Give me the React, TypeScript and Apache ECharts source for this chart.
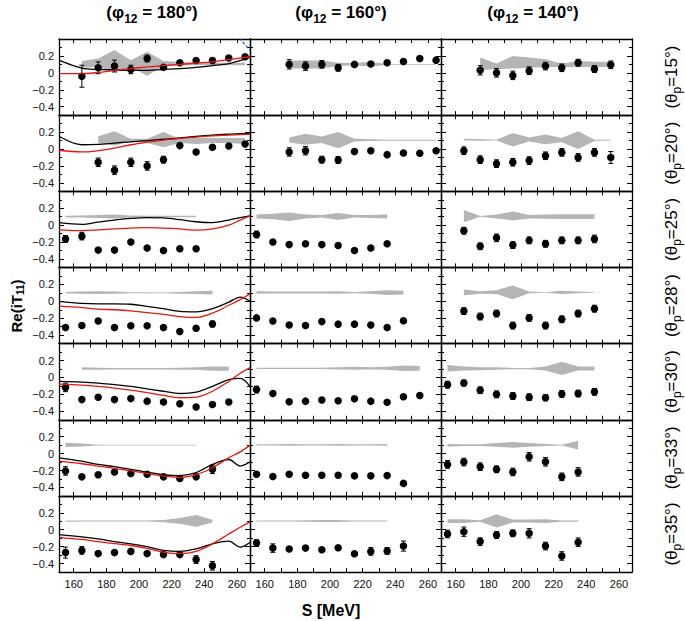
import React, { useEffect, useRef } from "react";
import * as echarts from "echarts";

// ---------- data ----------
const ENERGY = [155, 165, 175, 185, 195, 205, 215, 225, 235, 245, 255, 265];
const PHI_TITLES = ["180°", "160°", "140°"];
const THETA_LABELS = ["15°", "20°", "25°", "28°", "30°", "33°", "35°"];
const X_TICKS = [160, 170, 180, 190, 200, 210, 220, 230, 240, 250, 260];
const X_LABELS = [160, 180, 200, 220, 240, 260];
const Y_MAJOR = [-0.4, -0.2, 0, 0.2];
const Y_MINOR = [-0.3, -0.1, 0.1, 0.3];
const X_MIN = 151;
const X_MAX = 268;
const Y_MIN = -0.5;
const Y_MAX = 0.4;

type Row = (number | null)[];

// phi12 = 180
const pts180: Row[] = [
  [null, -0.04, 0.06, 0.08, 0.04, 0.17, 0.065, 0.12, 0.145, 0.145, 0.175, 0.19],
  [null, null, -0.157, -0.25, -0.157, -0.2, -0.126, 0.04, -0.035, 0.02, 0.035, 0.06],
  [-0.163, -0.13, -0.295, -0.295, -0.2, -0.27, -0.3, -0.28, -0.28, null, null, null],
  [-0.31, -0.287, -0.233, -0.31, -0.29, -0.29, -0.31, -0.357, -0.318, -0.268, null, null],
  [-0.118, -0.262, -0.235, -0.262, -0.25, -0.28, -0.29, -0.31, -0.35, -0.32, -0.29, null],
  [-0.205, -0.275, -0.25, -0.217, -0.236, -0.244, -0.275, -0.294, -0.275, -0.186, null, null],
  [-0.27, -0.244, -0.282, -0.27, -0.256, -0.282, -0.294, -0.294, -0.352, -0.426, null, null],
];
const err180: number[][] = [
  [0, 0.13, 0.07, 0.07, 0.05, 0.04, 0, 0, 0, 0, 0, 0],
  [0, 0, 0.05, 0.05, 0.05, 0.05, 0.04, 0, 0, 0, 0, 0],
  [0.04, 0.045, 0, 0, 0, 0, 0, 0, 0, 0, 0, 0],
  [0, 0, 0, 0, 0, 0, 0, 0, 0, 0.035, 0, 0],
  [0.05, 0, 0, 0, 0, 0, 0, 0, 0, 0, 0, 0],
  [0.05, 0, 0, 0, 0, 0, 0, 0, 0, 0.05, 0, 0],
  [0.065, 0.045, 0, 0, 0, 0, 0, 0, 0.045, 0.05, 0, 0],
];
const bandLo180: Row[] = [
  [null, 0.06, 0.07, 0.01, 0.07, -0.035, 0.08, 0.09, 0.09, 0.09, 0.09, 0.09],
  [null, null, 0.07, 0.04, 0.09, 0.07, 0.02, 0.07, 0.06, 0.07, 0.07, 0.06],
  [0.09, 0.09, 0.085, 0.08, 0.09, 0.093, 0.093, 0.093, 0.093, null, null, null],
  [0.095, 0.09, 0.085, 0.09, 0.095, 0.095, 0.095, 0.09, 0.085, 0.08, null, null],
  [null, 0.09, 0.092, 0.095, 0.095, 0.095, 0.095, 0.092, 0.09, 0.08, 0.08, null],
  [0.078, 0.085, 0.095, 0.096, 0.096, 0.096, 0.096, 0.096, 0.096, null, null, null],
  [0.095, 0.097, 0.097, 0.097, 0.097, 0.097, 0.09, 0.07, 0.035, 0.086, null, null],
];
const bandHi180: Row[] = [
  [null, 0.14, 0.17, 0.27, 0.15, 0.25, 0.14, 0.13, 0.12, 0.12, 0.12, 0.12],
  [null, null, 0.15, 0.21, 0.12, 0.12, 0.2, 0.12, 0.13, 0.13, 0.13, 0.13],
  [0.11, 0.115, 0.12, 0.125, 0.115, 0.11, 0.11, 0.11, 0.11, null, null, null],
  [0.11, 0.115, 0.12, 0.115, 0.108, 0.108, 0.105, 0.11, 0.12, 0.125, null, null],
  [null, 0.12, 0.115, 0.112, 0.112, 0.112, 0.112, 0.115, 0.12, 0.13, 0.13, null],
  [0.128, 0.12, 0.106, 0.104, 0.104, 0.104, 0.104, 0.104, 0.104, null, null, null],
  [0.11, 0.108, 0.108, 0.108, 0.108, 0.108, 0.115, 0.14, 0.174, 0.118, null, null],
];

// phi12 = 160
const pts160: Row[] = [
  [null, null, 0.1, 0.08, 0.1, 0.06, 0.1, 0.105, 0.12, 0.135, 0.17, 0.15],
  [null, null, -0.035, -0.02, -0.126, -0.13, -0.03, -0.02, -0.067, -0.047, -0.05, -0.02],
  [-0.11, -0.2, -0.23, -0.22, -0.23, -0.24, -0.3, -0.27, -0.22, null, null, null],
  [-0.196, -0.233, -0.28, -0.287, -0.24, -0.27, -0.27, -0.28, -0.31, -0.23, null, null],
  [-0.143, -0.19, -0.287, -0.28, -0.267, -0.275, -0.252, -0.28, -0.294, -0.229, -0.213, null],
  [-0.244, -0.27, -0.244, -0.256, -0.256, -0.256, -0.263, -0.263, -0.26, -0.352, null, null],
  [-0.158, -0.217, -0.228, -0.217, -0.236, -0.213, -0.283, -0.256, -0.25, -0.193, null, null],
];
const err160: number[][] = [
  [0, 0, 0.055, 0.05, 0.045, 0.04, 0, 0, 0, 0, 0, 0],
  [0, 0, 0.05, 0.05, 0.04, 0.04, 0, 0, 0, 0, 0, 0],
  [0.04, 0, 0, 0, 0, 0, 0, 0, 0, 0, 0, 0],
  [0, 0, 0, 0, 0, 0, 0, 0, 0, 0, 0, 0],
  [0.04, 0, 0, 0, 0, 0, 0, 0, 0, 0, 0, 0],
  [0, 0, 0, 0, 0, 0, 0, 0, 0, 0, 0, 0],
  [0.04, 0.05, 0, 0, 0, 0, 0, 0.045, 0.04, 0.06, 0, 0],
];
const bandLo160: Row[] = [
  [null, null, 0.05, 0.05, 0.05, 0.08, 0.09, 0.075, 0.095, 0.095, 0.095, 0.095],
  [null, null, 0.078, 0.05, 0.07, 0.01, 0.09, 0.095, 0.098, 0.098, 0.098, 0.098],
  [0.08, 0.07, 0.05, 0.08, 0.09, 0.062, 0.09, 0.085, 0.078, null, null, null],
  [0.09, 0.093, 0.093, 0.093, 0.093, 0.09, 0.095, 0.09, 0.075, 0.08, null, null],
  [0.1, 0.1, 0.1, 0.1, 0.1, 0.095, 0.09, 0.095, 0.09, 0.075, 0.08, null],
  [0.095, 0.095, 0.093, 0.095, 0.095, 0.093, 0.095, 0.095, 0.093, null, null, null],
  [0.097, 0.097, 0.097, 0.095, 0.092, 0.092, 0.097, 0.097, 0.097, null, null, null],
];
const bandHi160: Row[] = [
  [null, null, 0.145, 0.145, 0.145, 0.12, 0.115, 0.13, 0.105, 0.105, 0.105, 0.105],
  [null, null, 0.137, 0.18, 0.148, 0.2, 0.12, 0.115, 0.11, 0.11, 0.11, 0.11],
  [0.125, 0.135, 0.15, 0.125, 0.12, 0.143, 0.12, 0.12, 0.128, null, null, null],
  [0.12, 0.115, 0.115, 0.115, 0.115, 0.12, 0.11, 0.12, 0.13, 0.125, null, null],
  [0.115, 0.115, 0.115, 0.115, 0.115, 0.12, 0.125, 0.12, 0.125, 0.14, 0.135, null],
  [0.11, 0.11, 0.112, 0.11, 0.11, 0.112, 0.11, 0.11, 0.112, null, null, null],
  [0.11, 0.11, 0.11, 0.112, 0.115, 0.115, 0.11, 0.11, 0.11, null, null, null],
];

// phi12 = 140
const pts140: Row[] = [
  [null, null, 0.03, 0.0, -0.03, 0.025, 0.08, 0.06, 0.12, 0.045, 0.095, null],
  [null, -0.02, -0.126, -0.173, -0.157, -0.137, -0.08, -0.04, -0.1, -0.04, -0.1, null],
  [null, -0.066, -0.25, -0.15, -0.236, -0.18, -0.22, -0.18, -0.18, -0.163, null, null],
  [null, -0.116, -0.18, -0.145, -0.287, -0.196, -0.287, -0.213, -0.145, -0.087, null, null],
  [-0.085, -0.066, -0.151, -0.2, -0.22, -0.233, -0.24, -0.195, -0.19, -0.17, null, null],
  [-0.128, -0.1, -0.155, -0.186, -0.217, -0.038, -0.097, -0.275, -0.217, null, null, null],
  [-0.05, -0.023, -0.14, -0.062, -0.042, -0.042, -0.193, -0.31, -0.147, null, null, null],
];
const err140: number[][] = [
  [0, 0, 0.055, 0.05, 0.05, 0.045, 0.045, 0.045, 0.04, 0.04, 0.045, 0],
  [0, 0.045, 0.045, 0.045, 0.045, 0.045, 0.045, 0.045, 0.045, 0.045, 0.07, 0],
  [0, 0.04, 0.04, 0.045, 0.04, 0.04, 0.04, 0.04, 0.04, 0.045, 0, 0],
  [0, 0.04, 0.04, 0.04, 0.04, 0.04, 0.04, 0.04, 0.04, 0.04, 0, 0],
  [0.04, 0.035, 0.04, 0.04, 0.04, 0.04, 0.035, 0.04, 0.04, 0.04, 0, 0],
  [0.045, 0.045, 0.045, 0.04, 0.045, 0.05, 0.05, 0.045, 0.05, 0, 0, 0],
  [0.045, 0.055, 0.045, 0.04, 0.04, 0.055, 0.045, 0.05, 0.05, 0, 0, 0],
];
const bandLo140: Row[] = [
  [null, null, 0.03, 0.045, 0.05, 0.06, 0.067, 0.07, 0.067, 0.07, 0.07, null],
  [null, 0.1, 0.098, 0.1, 0.03, 0.09, 0.055, 0.08, 0.0, 0.095, 0.1, null],
  [null, 0.035, 0.1, 0.08, 0.055, 0.08, 0.075, 0.073, 0.073, 0.073, null, null],
  [null, 0.07, 0.09, 0.085, 0.023, 0.095, 0.1, 0.085, 0.095, 0.1, null, null],
  [0.07, 0.081, 0.085, 0.09, 0.097, 0.097, 0.081, 0.03, 0.081, 0.081, null, null],
  [0.082, 0.09, 0.09, 0.08, 0.07, 0.08, 0.09, 0.095, 0.047, null, null, null],
  [0.08, 0.08, 0.095, 0.028, 0.085, 0.085, 0.08, 0.095, 0.095, null, null, null],
];
const bandHi140: Row[] = [
  [null, null, 0.18, 0.11, 0.2, 0.18, 0.16, 0.11, 0.14, 0.13, 0.13, null],
  [null, 0.12, 0.118, 0.11, 0.19, 0.135, 0.17, 0.13, 0.21, 0.11, 0.108, null],
  [null, 0.178, 0.108, 0.125, 0.16, 0.12, 0.125, 0.128, 0.128, 0.128, null, null],
  [null, 0.14, 0.12, 0.13, 0.188, 0.115, 0.107, 0.125, 0.115, 0.107, null, null],
  [0.147, 0.128, 0.12, 0.12, 0.113, 0.113, 0.128, 0.186, 0.128, 0.128, null, null],
  [0.112, 0.11, 0.11, 0.125, 0.136, 0.125, 0.112, 0.105, 0.151, null, null, null],
  [0.124, 0.124, 0.112, 0.183, 0.12, 0.12, 0.124, 0.11, 0.11, null, null, null],
];

// theory curves (phi12 = 180 only)
const CURVE_S = [151, 165, 175, 185, 195, 205, 215, 225, 235, 245, 255, 262, 268];
const black180: number[][] = [
  [0.15, 0.055, 0.04, 0.035, 0.03, 0.03, 0.04, 0.05, 0.065, 0.085, 0.11, 0.145, 0.185],
  [0.15, 0.05, 0.055, 0.07, 0.085, 0.1, 0.115, 0.13, 0.15, 0.165, 0.175, 0.18, 0.18],
  [0.03, 0.01, 0.035, 0.06, 0.08, 0.09, 0.085, 0.065, 0.04, 0.03, 0.06, 0.09, 0.11],
  [0.0, -0.025, -0.03, -0.03, -0.035, -0.06, -0.087, -0.12, -0.125, -0.087, -0.01, 0.05, 0.0],
  [-0.047, -0.055, -0.066, -0.085, -0.105, -0.135, -0.163, -0.19, -0.174, -0.105, -0.027, -0.01, -0.105],
  [-0.05, -0.09, -0.128, -0.155, -0.186, -0.22, -0.25, -0.26, -0.225, -0.128, -0.07, -0.147, -0.097],
  [-0.058, -0.085, -0.109, -0.14, -0.167, -0.2, -0.244, -0.256, -0.225, -0.167, -0.135, -0.205, -0.147],
];
const red180: number[][] = [
  [-0.01, -0.01, 0.005, 0.03, 0.05, 0.07, 0.085, 0.1, 0.115, 0.13, 0.155, 0.175, 0.19],
  [-0.015, -0.035, -0.02, 0.01, 0.05, 0.08, 0.105, 0.125, 0.14, 0.155, 0.165, 0.17, 0.175],
  [-0.055, -0.065, -0.055, -0.045, -0.035, -0.03, -0.035, -0.045, -0.06, -0.045, 0.0, 0.06, 0.11],
  [-0.058, -0.075, -0.093, -0.1, -0.113, -0.135, -0.155, -0.18, -0.19, -0.14, -0.047, 0.02, 0.09],
  [-0.078, -0.09, -0.105, -0.125, -0.15, -0.18, -0.213, -0.24, -0.233, -0.163, -0.047, 0.05, 0.116],
  [-0.089, -0.12, -0.147, -0.175, -0.205, -0.235, -0.264, -0.283, -0.25, -0.167, -0.05, 0.02, 0.097],
  [-0.089, -0.115, -0.14, -0.165, -0.186, -0.22, -0.264, -0.283, -0.256, -0.167, -0.05, 0.03, 0.093],
];
const BLUE_S = [261.5, 268];
const BLUE_V = [0.41, 0.265];

// ---------- layout / style ----------
const FONT = "Liberation Sans, Arial, Helvetica, sans-serif";
const GRID_LEFT = [59, 250, 441];
const GRID_W = 191;
const GRID_TOP = 39;
const GRID_H = 76.15;
const BAND_COLOR = "#b5b5b5";

const fmtY = (v: number) => {
  if (Math.abs(v) < 1e-9) return "0";
  return (v < 0 ? "\u2212" : "") + Math.abs(v).toFixed(1);
};

function buildOption() {
  const cols = [
    { pts: pts180, err: err180, lo: bandLo180, hi: bandHi180 },
    { pts: pts160, err: err160, lo: bandLo160, hi: bandHi160 },
    { pts: pts140, err: err140, lo: bandLo140, hi: bandHi140 },
  ];
  const grid: any[] = [];
  const xAxis: any[] = [];
  const yAxis: any[] = [];
  const series: any[] = [];
  const axisLine = { show: true, onZero: false, lineStyle: { color: "#000", width: 1.3 } };
  const tickStyle = { color: "#000", width: 1 };

  for (let r = 0; r < 7; r++) {
    for (let c = 0; c < 3; c++) {
      const g = r * 3 + c;
      grid.push({ left: GRID_LEFT[c], top: GRID_TOP + r * GRID_H, width: GRID_W, height: GRID_H });
      for (const pos of ["bottom", "top"]) {
        xAxis.push({
          gridIndex: g, type: "value", min: X_MIN, max: X_MAX, position: pos,
          axisLine,
          axisTick: { show: true, inside: true, length: 4, customValues: X_TICKS, lineStyle: tickStyle },
          axisLabel: {
            show: pos === "bottom" && r === 6, customValues: X_LABELS,
            fontSize: 11, fontFamily: FONT, color: "#111", margin: 6,
            formatter: (v: number) => String(v),
          },
          splitLine: { show: false },
        });
      }
      for (const pos of ["left", "right"]) {
        yAxis.push({
          gridIndex: g, type: "value", min: Y_MIN, max: Y_MAX, position: pos,
          axisLine,
          axisTick: { show: true, inside: true, length: 5, customValues: Y_MAJOR, lineStyle: tickStyle },
          axisLabel: {
            show: pos === "left" && c === 0, customValues: Y_MAJOR,
            fontSize: 11, fontFamily: FONT, color: "#111", margin: 5, formatter: fmtY,
          },
          splitLine: { show: false },
        });
        yAxis.push({
          gridIndex: g, type: "value", min: Y_MIN, max: Y_MAX, position: pos,
          axisLine: { show: false, onZero: false },
          axisTick: { show: true, inside: true, length: 3, customValues: Y_MINOR, lineStyle: tickStyle },
          axisLabel: { show: false },
          splitLine: { show: false },
        });
      }
      const xi = 2 * g;
      const yi = 4 * g;
      const col = cols[c];

      // systematic band
      const band: number[][] = [];
      ENERGY.forEach((s, i) => {
        const lo = col.lo[r][i];
        const hi = col.hi[r][i];
        if (lo != null && hi != null) band.push([s, lo, hi]);
      });
      series.push({
        type: "custom", xAxisIndex: xi, yAxisIndex: yi, silent: true, clip: true,
        data: band,
        renderItem: (params: any, api: any) => {
          if (params.dataIndex !== 0) return null;
          const up = band.map((b) => api.coord([b[0], b[2]]));
          const low = band.map((b) => api.coord([b[0], b[1]])).reverse();
          return { type: "polygon", shape: { points: up.concat(low) }, style: { fill: BAND_COLOR } };
        },
      });

      // theory curves
      if (c === 0) {
        series.push({
          type: "line", xAxisIndex: xi, yAxisIndex: yi, silent: true, smooth: 0.35, symbol: "none", clip: true,
          data: CURVE_S.map((s, i) => [s, black180[r][i]]),
          lineStyle: { color: "#000", width: 1.3 },
        });
        series.push({
          type: "line", xAxisIndex: xi, yAxisIndex: yi, silent: true, smooth: 0.35, symbol: "none", clip: true,
          data: CURVE_S.map((s, i) => [s, red180[r][i]]),
          lineStyle: { color: "#e8160c", width: 1.3 },
        });
        if (r === 0) {
          series.push({
            type: "line", xAxisIndex: xi, yAxisIndex: yi, silent: true, symbol: "none", clip: true,
            data: BLUE_S.map((s, i) => [s, BLUE_V[i]]),
            lineStyle: { color: "#2038e0", width: 1.2, type: [3, 2] },
          });
        }
      }

      // error bars
      const errData: number[][] = [];
      ENERGY.forEach((s, i) => {
        const y = col.pts[r][i];
        const e = col.err[r][i];
        if (y != null && e > 0) errData.push([s, y, e]);
      });
      series.push({
        type: "custom", xAxisIndex: xi, yAxisIndex: yi, silent: true, clip: true,
        data: errData,
        renderItem: (params: any, api: any) => {
          const x = api.value(0);
          const y = api.value(1);
          const e = api.value(2);
          const t = api.coord([x, y + e]);
          const b = api.coord([x, y - e]);
          const st = { stroke: "#000", lineWidth: 1 };
          const cap = 2.5;
          return {
            type: "group",
            children: [
              { type: "line", shape: { x1: t[0], y1: t[1], x2: b[0], y2: b[1] }, style: st },
              { type: "line", shape: { x1: t[0] - cap, y1: t[1], x2: t[0] + cap, y2: t[1] }, style: st },
              { type: "line", shape: { x1: b[0] - cap, y1: b[1], x2: b[0] + cap, y2: b[1] }, style: st },
            ],
          };
        },
      });

      // data points
      const pd: number[][] = [];
      ENERGY.forEach((s, i) => {
        const y = col.pts[r][i];
        if (y != null) pd.push([s, y]);
      });
      series.push({
        type: "scatter", xAxisIndex: xi, yAxisIndex: yi, silent: true,
        data: pd, symbol: "circle", symbolSize: 7.5, itemStyle: { color: "#000", opacity: 1 },
      });
    }
  }

  const graphic: any[] = [];
  const titleX = [152, 341, 533];
  PHI_TITLES.forEach((t, i) => {
    graphic.push({
      type: "text", x: titleX[i], y: 12,
      style: {
        text: `{m|(φ}{s|12}{m| = ${t})}`,
        align: "center", verticalAlign: "middle",
        rich: {
          m: { fontSize: 17, fontWeight: "bold", fontFamily: FONT, fill: "#000" },
          s: { fontSize: 12, fontWeight: "bold", fontFamily: FONT, fill: "#000", padding: [13, 0, 0, 0] },
        },
      },
    });
  });
  THETA_LABELS.forEach((t, r) => {
    graphic.push({
      type: "text", x: 671, y: GRID_TOP + r * GRID_H + GRID_H / 2, rotation: Math.PI / 2,
      style: {
        text: `{m|(θ}{s|p}{m|=${t})}`,
        align: "center", verticalAlign: "middle",
        rich: {
          m: { fontSize: 17, fontFamily: FONT, fill: "#000" },
          s: { fontSize: 12, fontFamily: FONT, fill: "#000", padding: [11, 0, 0, 0] },
        },
      },
    });
  });
  graphic.push({
    type: "text", x: 16, y: 306, rotation: Math.PI / 2,
    style: {
      text: "{m|Re(iT}{s|11}{m|)}",
      align: "center", verticalAlign: "middle",
      rich: {
        m: { fontSize: 15, fontWeight: "bold", fontFamily: FONT, fill: "#000" },
        s: { fontSize: 10, fontWeight: "bold", fontFamily: FONT, fill: "#000", padding: [9, 0, 0, 0] },
      },
    },
  });
  graphic.push({
    type: "text", x: 331, y: 610,
    style: {
      text: "S [MeV]", align: "center", verticalAlign: "middle",
      fontSize: 16, fontWeight: "bold", fontFamily: FONT, fill: "#000",
    },
  });

  return {
    animation: false,
    backgroundColor: "#fff",
    grid, xAxis, yAxis, series, graphic,
  };
}

export default function App() {
  const ref = useRef<HTMLDivElement>(null);
  useEffect(() => {
    const chart = echarts.init(ref.current!, null, { renderer: "svg" });
    chart.setOption(buildOption() as any);
    return () => chart.dispose();
  }, []);
  return (
    <div
      ref={ref}
      style={{ position: "absolute", left: 0, top: 0, width: 685, height: 621 }}
    />
  );
}
